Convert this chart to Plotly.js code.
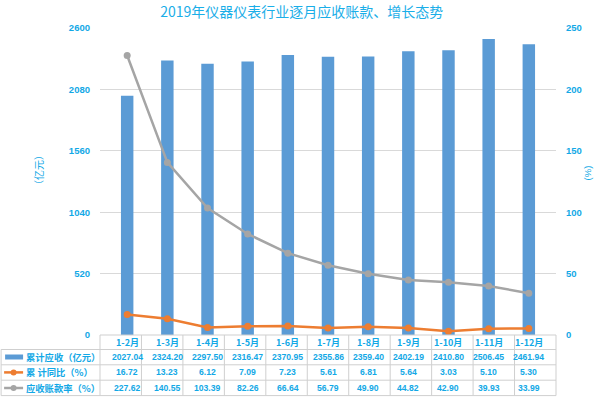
<!DOCTYPE html>
<html><head><meta charset="utf-8">
<script src="https://cdn.plot.ly/plotly-3.0.1.min.js"></script>
<style>html,body{margin:0;padding:0;background:#fff}#c{width:600px;height:398px}</style>
</head><body><div id="c"></div>
<script>
const categories = ['1-2月','1-3月','1-4月','1-5月','1-6月','1-7月','1-8月','1-9月','1-10月','1-11月','1-12月'];
const receivables = [2027.04,2324.20,2297.50,2316.47,2370.95,2355.86,2359.40,2402.19,2410.80,2506.45,2461.94];
const yoyGrowth = [16.72,13.23,6.12,7.09,7.23,5.61,6.81,5.64,3.03,5.10,5.30];
const receivableRate = [227.62,140.55,103.39,82.26,66.64,56.79,49.90,44.82,42.90,39.93,33.99];
const seriesNames = ['累计应收（亿元）','累 计同比（%）','应收账款率（%）'];
const leftTicks = [0,520,1040,1560,2080,2600];
const rightTicks = [0,50,100,150,200,250];

const W=600,H=398,L=100,R=43.5,T=28,B=63;
const PH=H-T-B, PW=W-L-R;
const py = p => (H-B-p)/PH;      // pixel y -> paper y
const px = p => (p-L)/PW;        // pixel x -> paper x
const txt = '#12A8E6', gridC='#D9D9D9', lineC='#CFCFCF';
const font = 'Liberation Sans, Arial, sans-serif';
const cjk = 'Noto Sans CJK SC, sans-serif';

const traces = [
  {type:'bar', x:categories, y:receivables, name:seriesNames[0], marker:{color:'#5B9BD5'}, yaxis:'y'},
  {type:'scatter', mode:'lines+markers', x:categories, y:yoyGrowth, name:seriesNames[1], yaxis:'y2',
   line:{color:'#ED7D31',width:2.5}, marker:{color:'#ED7D31',size:7}},
  {type:'scatter', mode:'lines+markers', x:categories, y:receivableRate, name:seriesNames[2], yaxis:'y2',
   line:{color:'#A5A5A5',width:2.5}, marker:{color:'#A5A5A5',size:7}}
];

const shapes=[], ann=[];
const rowLines=[335,349.5,364.8,380.2,395.6].map(py);
const rowText=[342.3,357,372.4,388].map(py);
rowLines.forEach((y,i)=>{
  shapes.push({type:'line',xref:'paper',yref:'paper',x0:i===0?0:px(1),x1:1,y0:y,y1:y,line:{color:lineC,width:1}});
});
for(let i=0;i<=categories.length;i++){
  const x=i/categories.length;
  shapes.push({type:'line',xref:'paper',yref:'paper',x0:x,x1:x,y0:rowLines[0],y1:rowLines[4],line:{color:lineC,width:1}});
}
shapes.push({type:'line',xref:'paper',yref:'paper',x0:px(1),x1:px(1),y0:rowLines[1],y1:rowLines[4],line:{color:lineC,width:1}});
const rows=[receivables,yoyGrowth,receivableRate];
const cellFont={family:font,size:8.6,color:txt,weight:'bold'};
categories.forEach((c,i)=>{
  ann.push({xref:'x',yref:'paper',x:c,y:rowText[0],xanchor:'center',yanchor:'middle',text:c,showarrow:false,font:{family:cjk,size:9,color:txt,weight:'bold'}});
  rows.forEach((r,k)=>{
    ann.push({xref:'x',yref:'paper',x:c,y:rowText[k+1],xanchor:'center',yanchor:'middle',text:r[i].toFixed(2),showarrow:false,font:cellFont});
  });
});
shapes.push({type:'rect',xref:'paper',yref:'paper',x0:px(5),x1:px(23),y0:rowText[1]-2.5/PH,y1:rowText[1]+2.5/PH,fillcolor:'#5B9BD5',line:{width:0}});
[['#ED7D31',2],['#A5A5A5',3]].forEach(([col,k])=>{
  shapes.push({type:'line',xref:'paper',yref:'paper',x0:px(4),x1:px(23),y0:rowText[k],y1:rowText[k],line:{color:col,width:2.5}});
  shapes.push({type:'circle',xref:'paper',yref:'paper',x0:px(10.5),x1:px(16.5),y0:rowText[k]-3/PH,y1:rowText[k]+3/PH,fillcolor:col,line:{width:0}});
});
seriesNames.forEach((n,k)=>{
  ann.push({xref:'paper',yref:'paper',x:px(23.5),y:rowText[k+1],xanchor:'left',yanchor:'middle',text:n,showarrow:false,font:{family:cjk,size:9.3,color:txt,weight:'bold'}});
});
ann.push({xref:'paper',yref:'paper',x:px(38),y:py(170),xanchor:'center',yanchor:'middle',text:'（亿元）',textangle:-90,showarrow:false,font:{family:cjk,size:10,color:txt}});
ann.push({xref:'paper',yref:'paper',x:px(588),y:py(173),xanchor:'center',yanchor:'middle',text:'(%)',textangle:-90,showarrow:false,font:{family:font,size:9.5,color:txt}});

const tickFont={family:font,size:9.5,color:txt,weight:'bold'};
const layout={
  width:W,height:H,margin:{l:L,r:R,t:T,b:B},
  paper_bgcolor:'#fff',plot_bgcolor:'#fff',showlegend:false,bargap:0.69,
  title:{text:'2019年仪器仪表行业逐月应收账款、增长态势',x:0.503,xanchor:'center',y:0.97,yanchor:'middle',
    font:{family:cjk,size:14,color:'#1AAEE8'}},
  xaxis:{showticklabels:false,showgrid:false,zeroline:false,showline:false,fixedrange:true},
  yaxis:{range:[0,2600],tickvals:leftTicks,showgrid:true,gridcolor:gridC,zeroline:false,showline:false,
    tickfont:tickFont,ticklabelstandoff:9},
  yaxis2:{range:[0,250],tickvals:rightTicks,overlaying:'y',side:'right',showgrid:false,zeroline:false,showline:false,
    tickfont:tickFont,ticklabelstandoff:9},
  shapes:shapes,annotations:ann,font:{family:font,color:txt}
};
Plotly.newPlot('c',traces,layout,{displayModeBar:false,staticPlot:true});
</script></body></html>
